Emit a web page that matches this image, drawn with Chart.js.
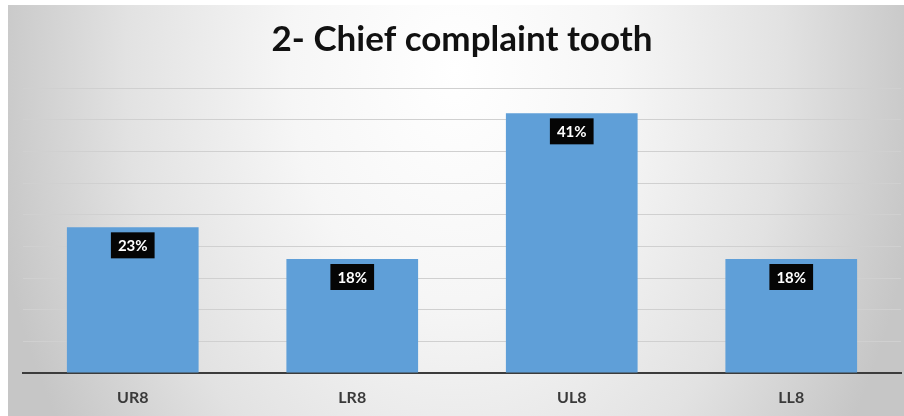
<!DOCTYPE html>
<html lang="en">
<head>
  <meta charset="UTF-8">
  <title>2- Chief complaint tooth</title>
  <script src="https://cdn.jsdelivr.net/npm/chart.js"></script>
  <style>
    html, body {
      margin: 0;
      padding: 0;
      background: #ffffff;
    }
    #chart-container {
      width: 904px;
      height: 416px;
    }
  </style>
</head>
<body>
<div id="chart-container">
  <canvas id="toothChart"></canvas>
</div>

<script>
  // Teeth and share of patients (%)
  const teeth = ['UR8', 'LR8', 'UL8', 'LL8'];
  const shares = [23, 18, 41, 18];
  const valueLabels = ['23%', '18%', '41%', '18%'];

  const barColor = '#5f9fd8';
  const labelFont = 'Lato, "Open Sans", sans-serif';

  // Grey panel behind the chart, lighter towards the top middle
  const panelBackground = {
    id: 'panelBackground',
    beforeDraw(chart) {
      const ctx = chart.ctx;
      const w = chart.width;
      const h = chart.height;
      ctx.save();
      ctx.fillStyle = '#ffffff';
      ctx.fillRect(0, 0, w, h);
      ctx.beginPath();
      ctx.rect(8, 5, w - 8, h - 5);
      ctx.clip();
      ctx.translate(455, 70);
      ctx.scale(1, 1.4);
      const g = ctx.createRadialGradient(0, 0, 0, 0, 0, 470);
      g.addColorStop(0, '#ffffff');
      g.addColorStop(0.35, '#f6f6f6');
      g.addColorStop(0.7, '#e2e2e2');
      g.addColorStop(1, '#c6c6c6');
      ctx.fillStyle = g;
      ctx.fillRect(-460, -60, w + 20, h + 20);
      ctx.restore();
    }
  };

  // Black boxes with white percentages near the top of each bar
  const valueBoxes = {
    id: 'valueBoxes',
    afterDatasetsDraw(chart) {
      const ctx = chart.ctx;
      const meta = chart.getDatasetMeta(0);
      ctx.save();
      ctx.font = 'bold 15px ' + labelFont;
      ctx.textAlign = 'center';
      ctx.textBaseline = 'middle';
      meta.data.forEach((bar, i) => {
        const text = valueLabels[i];
        const boxW = ctx.measureText(text).width + 14;
        const boxH = 26;
        const top = bar.y + 5;
        ctx.fillStyle = '#050505';
        ctx.fillRect(bar.x - boxW / 2, top, boxW, boxH);
        ctx.fillStyle = '#ffffff';
        ctx.fillText(text, bar.x, top + boxH / 2 + 1);
      });
      ctx.restore();
    }
  };

  const ctx = document.getElementById('toothChart').getContext('2d');
  new Chart(ctx, {
    type: 'bar',
    data: {
      labels: teeth,
      datasets: [{
        data: shares,
        backgroundColor: barColor,
        borderWidth: 0,
        categoryPercentage: 1,
        barPercentage: 0.6
      }]
    },
    options: {
      responsive: true,
      maintainAspectRatio: false,
      animation: false,
      layout: {
        padding: { left: 23, right: 3, top: 0, bottom: 0 }
      },
      plugins: {
        legend: { display: false },
        tooltip: { enabled: false },
        title: {
          display: true,
          text: '2- Chief complaint tooth',
          color: '#111111',
          font: { family: labelFont, size: 35, weight: 'bold' },
          padding: { top: 19, bottom: 27 }
        }
      },
      scales: {
        x: {
          grid: { display: false, drawTicks: false },
          border: { display: true, color: '#3c3c3c', width: 2 },
          ticks: {
            color: '#3a3a3a',
            padding: 15,
            font: { family: labelFont, size: 16, weight: 'bold' }
          },
          afterFit(scale) {
            scale.height = 43;
          }
        },
        y: {
          min: 0,
          max: 45,
          ticks: { stepSize: 5, display: false },
          grid: { color: '#d0d0d0', lineWidth: 1, drawTicks: false },
          border: { display: false }
        }
      }
    },
    plugins: [panelBackground, valueBoxes]
  });
</script>
</body>
</html>
